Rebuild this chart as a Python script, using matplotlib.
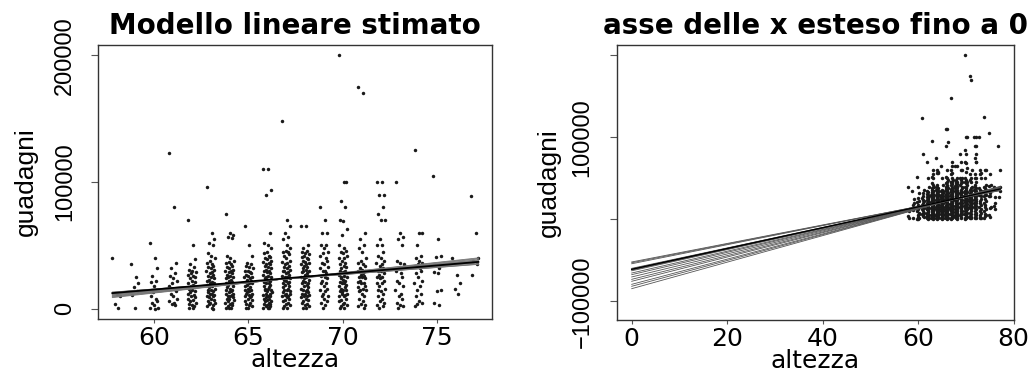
import numpy as np
import matplotlib
matplotlib.use("Agg")
import matplotlib.pyplot as plt

plt.rcParams['font.family'] = ['DejaVu Sans']

# earnings (thousands of dollars) read per height column (inches)
earn_58 = [40, 12, 10, 4, 1]
earn_59 = [35, 25, 20, 17, 14, 11, 1]
earn_60 = [52, 40, 32, 26, 22, 21, 18, 15, 13, 10, 8, 6, 5, 3, 1, 0.5, 0]
earn_61 = [123, 80, 36, 32, 28, 26, 24, 22, 20, 18, 16, 14, 12, 10, 8, 6, 5, 4, 3]
earn_62 = [70, 50, 39, 35, 33, 31, 30, 29, 28, 27, 26, 25, 24, 22, 21, 20, 19, 18,
           17, 16, 15, 14, 13, 12, 11, 10, 9, 8, 7, 6, 5, 4, 3, 2, 1, 0.5]
earn_63 = [96, 60, 55, 52, 50, 44, 42, 40, 38, 36, 35, 34, 33, 32, 31, 30, 29, 28,
           27, 26, 25, 24, 23, 22, 21, 20, 20, 19, 18, 17, 16, 15, 15, 14, 13, 12,
           12, 11, 10, 10, 9, 8, 7, 6, 5, 5, 4, 3, 2, 1, 0]
earn_64 = [75, 60, 58, 57, 56, 42, 40, 38, 37, 36, 35, 34, 33, 32, 31, 30, 30, 29,
           28, 27, 26, 25, 25, 24, 23, 22, 21, 20, 20, 19, 18, 17, 16, 15, 15, 14,
           13, 12, 12, 11, 10, 10, 9, 8, 8, 7, 6, 5, 5, 4, 3, 2, 1, 1, 0.5]
earn_65 = [65, 50, 42, 36, 35, 34, 33, 32, 30, 30, 29, 28, 27, 26, 25, 25, 24, 23,
           22, 21, 20, 20, 19, 18, 17, 16, 15, 15, 14, 13, 12, 12, 11, 10, 10, 9,
           8, 7, 6, 5, 4, 3, 2, 1, 0.5]
earn_66 = [110, 110, 94, 90, 60, 52, 50, 48, 45, 44, 42, 41, 40, 39, 38, 37, 36, 35,
           35, 34, 33, 32, 31, 30, 30, 29, 28, 27, 26, 25, 25, 24, 23, 22, 21, 20,
           20, 19, 18, 17, 16, 16, 15, 15, 14, 13, 12, 12, 11, 10, 10, 9, 8, 8, 7,
           6, 6, 5, 4, 4, 3, 2, 2, 1, 1, 0.5]
earn_67 = [148, 70, 65, 60, 57, 55, 50, 48, 46, 45, 45, 43, 42, 40, 38, 37, 36, 35,
           34, 33, 32, 31, 30, 30, 29, 28, 27, 26, 25, 25, 24, 23, 22, 21, 20, 20,
           19, 18, 17, 16, 15, 15, 14, 13, 12, 12, 11, 10, 10, 9, 8, 7, 6, 5, 4, 3,
           2, 1, 0.5]
earn_68 = [65, 65, 50, 48, 46, 45, 44, 43, 42, 41, 40, 39, 38, 37, 36, 35, 35, 34,
           33, 32, 31, 30, 30, 29, 28, 27, 26, 25, 25, 24, 23, 22, 21, 20, 20, 19,
           18, 17, 16, 15, 15, 14, 13, 12, 12, 11, 10, 10, 9, 8, 7, 6, 5, 4, 3, 2,
           1, 0.5]
earn_69 = [80, 70, 60, 60, 50, 50, 48, 45, 44, 42, 40, 38, 36, 35, 33, 32, 30, 30,
           28, 26, 25, 24, 22, 20, 20, 18, 16, 15, 14, 12, 10, 10, 8, 6, 5, 3, 1]
earn_70 = [200, 100, 100, 85, 80, 70, 69, 63, 58, 50, 48, 46, 45, 44, 42, 40, 40, 38,
           36, 35, 34, 33, 32, 30, 30, 29, 28, 27, 26, 25, 25, 24, 23, 22, 21, 20,
           20, 19, 18, 17, 16, 15, 15, 14, 13, 12, 12, 11, 10, 10, 8, 7, 6, 5, 4, 3,
           2, 1, 0.5]
earn_71 = [175, 170, 60, 55, 50, 48, 45, 40, 38, 36, 35, 34, 32, 31, 30, 30, 28, 27,
           26, 25, 25, 24, 22, 21, 20, 20, 18, 17, 16, 15, 15, 14, 12, 10, 8, 6, 4,
           3, 2, 1]
earn_72 = [100, 100, 90, 90, 80, 75, 70, 70, 55, 50, 50, 45, 42, 40, 38, 36, 35, 34,
           32, 30, 30, 28, 27, 25, 25, 24, 22, 20, 20, 18, 16, 15, 14, 12, 10, 8, 6,
           5, 3, 2, 1]
earn_73 = [100, 60, 57, 55, 50, 38, 36, 35, 32, 30, 28, 25, 22, 20, 18, 15, 12, 10,
           8, 5, 3, 2, 1]
earn_74 = [125, 60, 60, 50, 42, 40, 38, 36, 35, 34, 32, 30, 28, 25, 22, 20, 18, 15,
           12, 10, 6, 5, 4, 2]
earn_75 = [105, 55, 42, 41, 32, 29, 28, 15, 14, 5, 3]
earn_76 = [40, 27, 20, 16, 12]
earn_77 = [89, 60, 40, 38, 35, 27]

columns = [(58, earn_58), (59, earn_59), (60, earn_60), (61, earn_61), (62, earn_62),
           (63, earn_63), (64, earn_64), (65, earn_65), (66, earn_66), (67, earn_67),
           (68, earn_68), (69, earn_69), (70, earn_70), (71, earn_71), (72, earn_72),
           (73, earn_73), (74, earn_74), (75, earn_75), (76, earn_76), (77, earn_77)]

# horizontal jitter of the points inside a column
jitter = [-0.20, 0.05, 0.18, -0.08, 0.12, -0.15, 0.02, 0.22, -0.03, -0.18,
          0.09, 0.15, -0.11, 0.00, 0.20, -0.22, 0.07, -0.05, 0.13, -0.13,
          0.04, 0.19, -0.09, -0.17, 0.10, -0.01, 0.16, -0.20, 0.06, -0.07,
          0.21, -0.12, 0.01, 0.14, -0.16, 0.08, -0.04, 0.17, -0.19, 0.11,
          -0.10, 0.03, 0.18, -0.14, -0.02, 0.23, -0.06, 0.12, -0.21, 0.05,
          0.15, -0.08, -0.18, 0.09, 0.00, 0.20, -0.12, 0.07, -0.15, 0.13,
          -0.03, 0.17, -0.09, 0.02, -0.20, 0.10, 0.19, -0.06, 0.04, -0.16]

# simulated regression lines (intercept, slope) and point estimate
sim_a = [-52000, -53000, -54200, -59800, -60500, -61200, -62000, -62800,
         -65500, -67500, -70300, -73200, -75600, -79300, -81700, -84600]
sim_b = [1128, 1143, 1162, 1245, 1256, 1265, 1278, 1290,
         1330, 1360, 1403, 1445, 1481, 1537, 1574, 1617]
est_a = -61000
est_b = 1270

x = []
y = []
for h, vals in columns:
    for j, v in enumerate(vals):
        x.append(h + jitter[j])
        y.append(v * 1000)
x = np.array(x)
y = np.array(y)

fig = plt.figure(figsize=(10.36, 3.75), dpi=100)
ax1 = fig.add_axes([98/1036, 1 - 319/375, 394/1036, 274/375])
ax2 = fig.add_axes([617/1036, 1 - 320/375, 397/1036, 275/375])

VFONT = 'Liberation Sans'

def style(ax, ylab_x, ypad):
    for s in ax.spines.values():
        s.set_linewidth(1.0)
        s.set_color('#333333')
    ax.tick_params(axis='y', length=5, width=0.8, color='#555555', pad=ypad)
    ax.tick_params(axis='x', length=3, width=0.8, color='#555555', labelsize=18, pad=2)
    for t in ax.get_yticklabels():
        t.set_rotation(90)
        t.set_va('center')
        t.set_fontfamily(VFONT)
        t.set_fontsize(17)
    ax.set_xlabel('altezza', fontsize=18)
    ax.xaxis.set_label_coords(0.5, -0.15)
    ax.xaxis.label.set_va('center')
    ax.set_ylabel('guadagni', fontsize=19, fontfamily=VFONT)
    ax.yaxis.set_label_coords(ylab_x, 0.5)
    ax.yaxis.label.set_va('center')

# left panel
ax1.plot(x, y, 'o', ms=2.5, color='#1a1a1a', mec='none')
xx = np.array([x.min(), x.max()])
for a, b in zip(sim_a, sim_b):
    ax1.plot(xx, a + b * xx, color='#777777', lw=0.6)
ax1.plot(xx, est_a + est_b * xx, color='black', lw=1.3)
ax1.set_xlim(57.04, 77.9)
ax1.set_ylim(-8000, 208000)
ax1.set_xticks([60, 65, 70, 75])
ax1.set_yticks([0, 100000, 200000])
ax1.set_yticklabels(['0', '100000', '200000'])
ax1.set_title('Modello lineare stimato', fontsize=20, fontweight='bold', pad=8)
style(ax1, -0.183, 11)

# right panel
ax2.plot(x, y, 'o', ms=2.5, color='#1a1a1a', mec='none')
xx2 = np.array([0, x.max()])
for a, b in zip(sim_a, sim_b):
    ax2.plot(xx2, a + b * xx2, color='#555555', lw=0.6)
ax2.plot(xx2, est_a + est_b * xx2, color='black', lw=1.0)
ax2.set_xlim(-3.08, 80.08)
ax2.set_ylim(-122800, 212600)
ax2.set_xticks([0, 20, 40, 60, 80])
ax2.set_yticks([-100000, 0, 100000, 200000])
ax2.set_yticklabels(['\u2212100000', '', '100000', ''])
ax2.set_title('asse delle x esteso fino a 0', fontsize=20, fontweight='bold', pad=8)
style(ax2, -0.171, 12)

fig.savefig('out.png', dpi=100)
